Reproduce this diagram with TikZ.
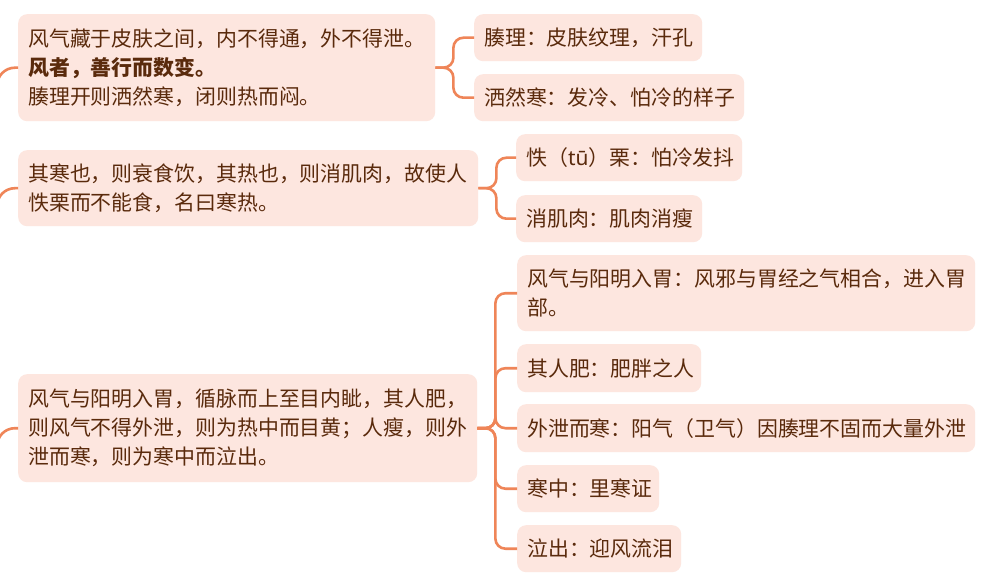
\documentclass[tikz,border=0pt]{standalone}
\usepackage{fontspec}
\setmainfont{Noto Sans CJK SC}
\newfontfamily\latinfont{Noto Sans}
\definecolor{boxfill}{HTML}{FDE6DF}
\definecolor{txt}{HTML}{5A2A0C}
\definecolor{linec}{HTML}{EF8558}
\begin{document}
\begin{tikzpicture}[x=1pt,y=-1pt,
  box/.style={rectangle, rounded corners=9pt, fill=boxfill, text=txt, anchor=north west,
    inner xsep=10pt, inner ysep=2pt, align=left,
    font=\fontsize{20.9}{29}\selectfont},
  conn/.style={draw=linec, line width=2.6pt, rounded corners=10pt},
  inconn/.style={draw=linec, line width=2.6pt, rounded corners=18pt}]
\useasboundingbox (0,0) rectangle (990,577);
\fill[white] (0,0) rectangle (990,577);

% group 1
\node[box, text width=397pt, minimum height=107pt] (A) at (18,14)
  {风气藏于皮肤之间，内不得通，外不得泄。\\\textbf{风者，善行而数变。}\\腠理开则洒然寒，闭则热而闷。};
\node[box, text width=208pt, minimum height=47pt] (B1) at (474,14) {腠理：皮肤纹理，汗孔};
\node[box, text width=250pt, minimum height=47pt] (B2) at (474,74) {洒然寒：发冷、怕冷的样子};

% group 2
\node[box, text width=440pt, minimum height=76pt] (C) at (18,150)
  {其寒也，则衰食饮，其热也，则消肌肉，故使人\\怢栗而不能食，名曰寒热。};
\node[box, text width=206pt, minimum height=47pt] (D1) at (516,134) {怢（{\latinfont tū}）栗：怕冷发抖};
\node[box, text width=166pt, minimum height=47pt] (D2) at (516,195) {消肌肉：肌肉消瘦};

% group 3
\node[box, text width=439pt, minimum height=108pt] (E) at (18,374)
  {风气与阳明入胃，循脉而上至目内眦，其人肥，\\则风气不得外泄，则为热中而目黄；人瘦，则外\\泄而寒，则为寒中而泣出。};
\node[box, text width=438pt, minimum height=76pt] (F1) at (517,255)
  {风气与阳明入胃：风邪与胃经之气相合，进入胃\\部。};
\node[box, text width=164pt, minimum height=48pt] (F2) at (517,344) {其人肥：肥胖之人};
\node[box, text width=438pt, minimum height=48pt] (F3) at (517,404) {外泄而寒：阳气（卫气）因腠理不固而大量外泄};
\node[box, text width=122pt, minimum height=47pt] (F4) at (517,465) {寒中：里寒证};
\node[box, text width=144pt, minimum height=47pt] (F5) at (517,525) {泣出：迎风流泪};

% incoming connectors from the off-picture parent
\coordinate (inA) at (-3,110);
\coordinate (inC) at (-3,230);
\coordinate (inE) at (-3,470);
\draw[inconn] (inA) |- (A.west);
\draw[inconn] (inC) |- (C.west);
\draw[inconn] (inE) |- (E.west);

% branches
\foreach \c in {B1,B2} \draw[conn] (A.east) -- ++(18,0) |- (\c.west);
\foreach \c in {D1,D2} \draw[conn] (C.east) -- ++(18,0) |- (\c.west);
\foreach \c in {F1,F2,F3,F4,F5} \draw[conn] (E.east) -- ++(18,0) |- (\c.west);
\end{tikzpicture}
\end{document}
